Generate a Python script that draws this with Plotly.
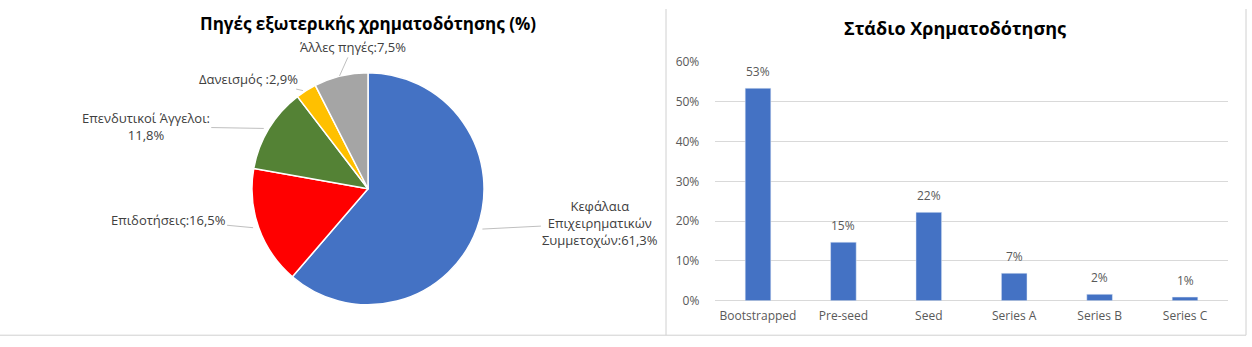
import math
import plotly.graph_objects as go

# ---- Data ----
pie_labels = ["Κεφάλαια<br>Επιχειρηματικών<br>Συμμετοχών", "Επιδοτήσεις",
              "Επενδυτικοί Άγγελοι", "Δανεισμός ", "Άλλες πηγές"]
pie_values = [61.3, 16.5, 11.8, 2.9, 7.5]
pie_label_seps = [":", ":", ":<br>", ":", ":"]
pie_colors = ["#4472C4", "#FF0000", "#548235", "#FFC000", "#A5A5A5"]

stages = ["Bootstrapped", "Pre-seed", "Seed", "Series A", "Series B", "Series C"]
stage_values = [53.4, 14.7, 22.2, 6.9, 1.6, 0.9]
y_ticks = [0, 10, 20, 30, 40, 50, 60]

FONT = "Open Sans"
W, H = 1252, 347

# pie geometry (pixels) and label offsets (pixels, from slice edge)
PCX, PCY, PR = 368, 189, 122
label_offsets = [(118, -6), (-85, -8), (-118, -2), (-54, -12), (13, -29)]

pie_text = [f"{lab}{sep}{v:.1f}%".replace(".", ",")
            for lab, sep, v in zip(pie_labels, pie_label_seps, pie_values)]

fig = go.Figure()

fig.add_trace(go.Pie(
    labels=pie_labels, values=pie_values, textinfo="none",
    marker=dict(colors=pie_colors, line=dict(color="white", width=1.5)),
    sort=False, direction="clockwise", rotation=0, showlegend=False, automargin=False,
    domain=dict(x=[(PCX - PR) / W, (PCX + PR) / W],
                y=[1 - (PCY + PR) / H, 1 - (PCY - PR) / H]),
))

# leader-line labels anchored at each slice's mid-angle on the pie edge
annotations = []
total = sum(pie_values)
cum = 0.0
for txt, v, (ax, ay) in zip(pie_text, pie_values, label_offsets):
    mid = (cum + v / 2) / total * 2 * math.pi
    cum += v
    px = PCX + PR * math.sin(mid)
    py = PCY - PR * math.cos(mid)
    annotations.append(dict(
        text=txt, x=px / W, y=1 - py / H, xref="paper", yref="paper",
        ax=ax, ay=ay, showarrow=True, arrowhead=0, arrowwidth=1,
        arrowcolor="#BFBFBF", standoff=0, startstandoff=0,
        align="center", xanchor="center", yanchor="middle",
        font=dict(family=FONT, size=13, color="#404040"),
    ))

fig.add_trace(go.Bar(
    x=stages, y=stage_values, marker=dict(color="#4472C4"), width=0.3,
    showlegend=False, hoverinfo="x+y",
))

# bar value labels, placed through the data axes
for s, v in zip(stages, stage_values):
    annotations.append(dict(
        text=f"{v:.0f}%", x=s, y=v, xref="x", yref="y", showarrow=False,
        xanchor="center", yanchor="bottom", yshift=6,
        font=dict(family=FONT, size=12, color="#595959"),
    ))

annotations += [
    dict(text="<b>Πηγές εξωτερικής χρηματοδότησης (%)</b>", x=368 / W, y=1 - 15 / H,
         xref="paper", yref="paper", showarrow=False, xanchor="center", yanchor="middle",
         font=dict(family=FONT, size=17, color="#000000")),
    dict(text="<b>Στάδιο Χρηματοδότησης</b>", x=955 / W, y=1 - 20 / H,
         xref="paper", yref="paper", showarrow=False, xanchor="center", yanchor="middle",
         font=dict(family=FONT, size=18, color="#000000")),
]

fig.update_layout(
    width=W, height=H, autosize=False,
    margin=dict(l=0, r=0, t=0, b=0),
    paper_bgcolor="white",
    plot_bgcolor="white",
    font=dict(family=FONT, color="#595959"),
    xaxis=dict(domain=[715.3 / W, 1227.7 / W], showgrid=False,
               showline=False, ticks="", tickfont=dict(size=12, color="#595959"),
               ticklabelstandoff=6),
    yaxis=dict(domain=[1 - 306.7 / H, 1 - 55.7 / H], range=[0, 60],
               tickvals=y_ticks, ticktext=[f"{t}%" for t in y_ticks],
               showgrid=True, gridcolor="#D9D9D9", gridwidth=1, zeroline=True,
               zerolinecolor="#D9D9D9", zerolinewidth=1, showline=False,
               tickfont=dict(size=12, color="#595959"), ticklabelstandoff=15),
    annotations=annotations,
    shapes=[
        dict(type="line", xref="paper", yref="paper", x0=666 / W, x1=666 / W,
             y0=1 - 343 / H, y1=1, line=dict(color="#D0D0D0", width=1)),
        dict(type="line", xref="paper", yref="paper", x0=0, x1=1246 / W,
             y0=1 - 343 / H, y1=1 - 343 / H, line=dict(color="#D0D0D0", width=1)),
        dict(type="line", xref="paper", yref="paper", x0=1246 / W, x1=1246 / W,
             y0=1 - 343 / H, y1=1, line=dict(color="#D0D0D0", width=1)),
    ],
)

fig.write_html("out.html")
